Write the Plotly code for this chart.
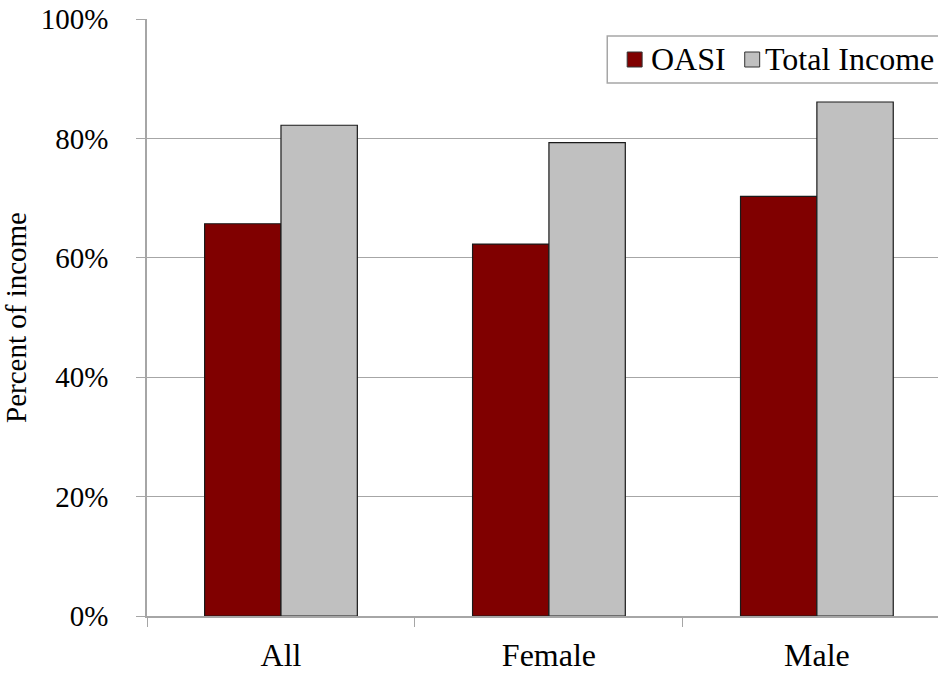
import plotly.graph_objects as go

categories = ["All", "Female", "Male"]
oasi = [65.7, 62.3, 70.3]
total_income = [82.2, 79.3, 86.1]
series_names = ["OASI", "Total Income"]
series_colors = ["#800000", "#c0c0c0"]
y_ticks = [0, 20, 40, 60, 80, 100]
y_tick_labels = ["0%", "20%", "40%", "60%", "80%", "100%"]

FONT = "Liberation Serif"
GRID = "#a6a6a6"

W, H = 938, 673
ML, MR, MT, MB = 144, 0, 19, 57
PW, PH = W - ML - MR, H - MT - MB


def px(x):
    return (x - ML) / PW


def py(y):
    return 1 - (y - MT) / PH


fig = go.Figure()
for name, vals, col in zip(series_names, [oasi, total_income], series_colors):
    fig.add_trace(go.Bar(x=categories, y=vals, name=name, showlegend=False,
                         marker=dict(color=col, line=dict(color="#1a1a1a", width=1.2))))

# manual legend (box, swatches, labels)
shapes = [dict(type="rect", xref="paper", yref="paper", x0=px(606), x1=px(950),
               y0=py(83), y1=py(36), line=dict(color=GRID, width=1.5), fillcolor="white",
               layer="above")]
annotations = []
sw_x = [626, 744]
tx_x = [649, 763]
for i, (name, col) in enumerate(zip(series_names, series_colors)):
    shapes.append(dict(type="rect", xref="paper", yref="paper", x0=px(sw_x[i]), x1=px(sw_x[i] + 15),
                       y0=py(67), y1=py(52), line=dict(color="#333333", width=1),
                       fillcolor=col, layer="above"))
    annotations.append(dict(xref="paper", yref="paper", x=px(tx_x[i]), y=py(59),
                            xanchor="left", yanchor="middle", showarrow=False, text=name,
                            font=dict(family=FONT, size=32, color="black"), borderpad=0))

fig.update_layout(
    width=W, height=H,
    margin=dict(l=ML, r=MR, t=MT, b=MB, pad=0),
    paper_bgcolor="white", plot_bgcolor="white",
    font=dict(family=FONT, size=29, color="black"),
    barmode="group", bargap=0.43, bargroupgap=0,
    showlegend=False,
    shapes=shapes, annotations=annotations,
    xaxis=dict(range=[-0.5, 2.452], type="category", showgrid=False,
               showline=True, linecolor=GRID, linewidth=1.5,
               ticks="outside", tickson="boundaries", ticklen=9, tickcolor=GRID,
               tickfont=dict(family=FONT, size=32, color="black"),
               ticklabelstandoff=10),
    yaxis=dict(range=[0, 100], tickvals=y_ticks, ticktext=y_tick_labels,
               showgrid=True, gridcolor=GRID, gridwidth=1,
               showline=True, linecolor=GRID, linewidth=1.5,
               ticks="outside", ticklen=9, tickcolor=GRID,
               tickfont=dict(family=FONT, size=29, color="black"),
               ticklabelstandoff=22, zeroline=False,
               title=dict(text="Percent of income", font=dict(family=FONT, size=29, color="black"),
                          standoff=20)),
)

fig.write_html("out.html", config={"displayModeBar": False},
               post_script="document.body.style.margin='0';document.body.style.overflow='hidden';")
